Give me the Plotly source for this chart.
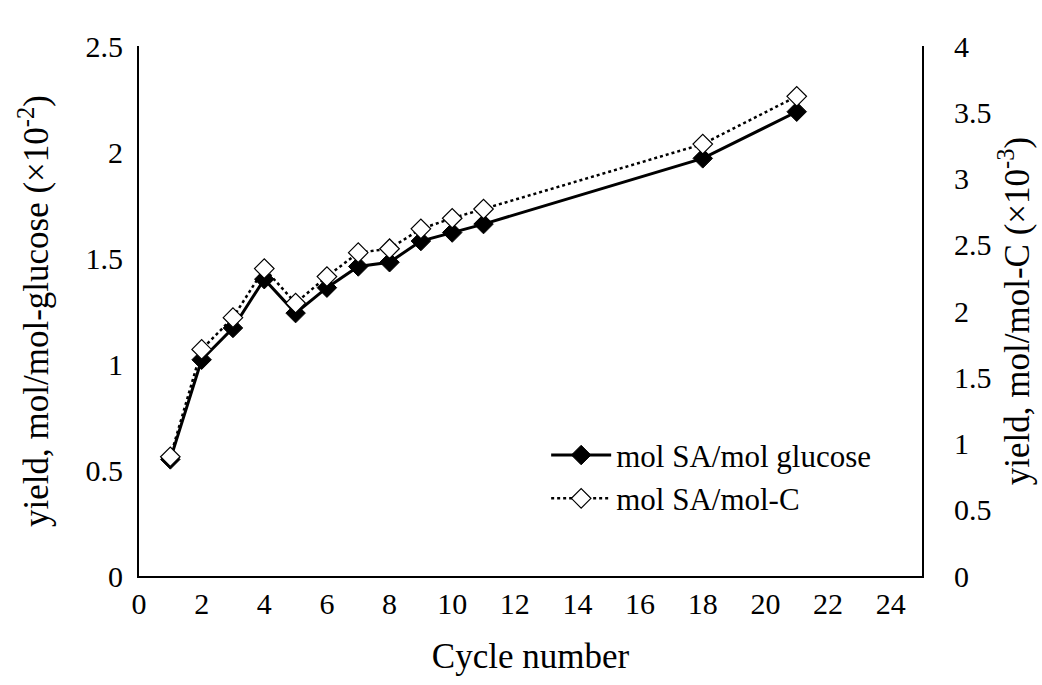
import plotly.graph_objects as go

cycles = [1, 2, 3, 4, 5, 6, 7, 8, 9, 10, 11, 18, 21]
yield_glucose = [0.55, 1.02, 1.17, 1.40, 1.24, 1.36, 1.46, 1.48, 1.58, 1.62, 1.66, 1.97, 2.19]
yield_molC = [0.90, 1.71, 1.95, 2.32, 2.06, 2.26, 2.44, 2.47, 2.62, 2.70, 2.77, 3.26, 3.62]

x_ticks = list(range(0, 25, 2))
y1_ticks = [0, 0.5, 1, 1.5, 2, 2.5]
y2_ticks = [0, 0.5, 1, 1.5, 2, 2.5, 3, 3.5, 4]

FONT = "'Liberation Serif', 'Times New Roman', serif"
FS = 30
TS = 35

fig = go.Figure()
fig.add_trace(go.Scatter(
    x=cycles, y=yield_glucose, name="mol SA/mol glucose",
    mode="lines+markers",
    line=dict(color="black", width=3),
    marker=dict(symbol="diamond", size=15, color="black", line=dict(color="black", width=1)),
    yaxis="y",
))
fig.add_trace(go.Scatter(
    x=cycles, y=yield_molC, name="mol SA/mol-C",
    mode="lines+markers",
    line=dict(color="black", width=2.5, dash="dot"),
    marker=dict(symbol="diamond", size=15, color="white", line=dict(color="black", width=1.2)),
    yaxis="y2",
))

tick_font = dict(family=FONT, size=FS, color="black")
title_font = dict(family=FONT, size=TS, color="black")

fig.update_layout(
    width=1042, height=685,
    margin=dict(l=139, r=117, t=46, b=109),
    paper_bgcolor="white", plot_bgcolor="white",
    font=dict(family=FONT, size=FS, color="black"),
    showlegend=True,
    legend=dict(
        x=0.52, y=0.187, xanchor="left", yanchor="middle",
        bgcolor="rgba(0,0,0,0)", font=dict(family=FONT, size=31, color="black"),
        tracegroupgap=13, itemwidth=60,
    ),
    xaxis=dict(
        range=[0, 25], tickvals=x_ticks, ticks="", showgrid=False, zeroline=False,
        showline=True, linecolor="black", linewidth=2, mirror=False,
        tickfont=tick_font, ticklabelstandoff=0,
        title=dict(text="Cycle number", font=title_font, standoff=24),
    ),
    yaxis=dict(
        range=[0, 2.5], tickvals=y1_ticks, ticktext=[("%g" % v) for v in y1_ticks],
        ticks="", showgrid=False, zeroline=False,
        showline=True, linecolor="black", linewidth=2,
        tickfont=tick_font, ticklabelstandoff=8,
        title=dict(text="yield, mol/mol-glucose (×10<sup>-2</sup>)", font=title_font, standoff=26),
    ),
    yaxis2=dict(
        range=[0, 4], tickvals=y2_ticks, ticktext=[("%g" % v) for v in y2_ticks],
        overlaying="y", side="right",
        ticks="", showgrid=False, zeroline=False,
        showline=True, linecolor="black", linewidth=2,
        tickfont=tick_font, ticklabelstandoff=24,
        title=dict(text="yield, mol/mol-C (×10<sup>-3</sup>)", font=title_font, standoff=14),
    ),
)

fig.write_html("out.html")
